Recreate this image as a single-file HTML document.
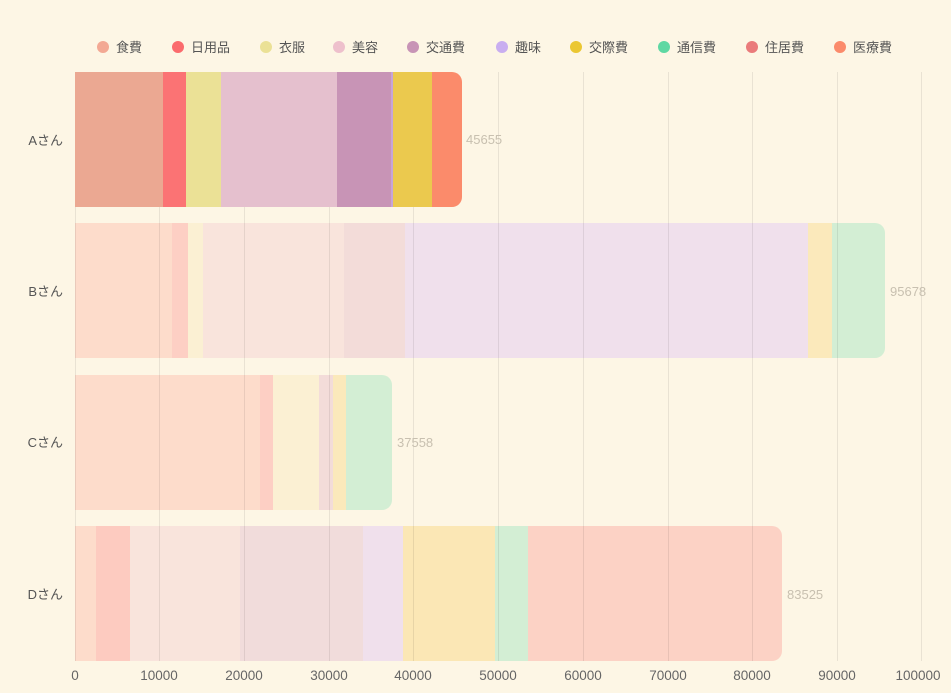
<!DOCTYPE html>
<html><head><meta charset="utf-8"><style>
html,body{margin:0;padding:0;background:#fdf6e5;}
svg{display:block;font-family:"Liberation Sans","Noto Sans CJK JP",sans-serif;}
</style></head><body>
<svg width="951" height="693" viewBox="0 0 951 693">
<rect width="951" height="693" fill="#fdf6e5"/>
<defs>
<clipPath id="cA"><rect x="60" y="72" width="402" height="135" rx="10"/></clipPath>
<clipPath id="cB"><rect x="60" y="223" width="825" height="135" rx="10"/></clipPath>
<clipPath id="cC"><rect x="60" y="375" width="332" height="135" rx="10"/></clipPath>
<clipPath id="cD"><rect x="60" y="526" width="722" height="135" rx="10"/></clipPath>
</defs>
<g clip-path="url(#cB)">
<rect x="75" y="223" width="97" height="135" fill="#fddccb"/>
<rect x="172" y="223" width="16" height="135" fill="#fdcfc4"/>
<rect x="188" y="223" width="15" height="135" fill="#fbf0d3"/>
<rect x="203" y="223" width="141" height="135" fill="#f9e4dc"/>
<rect x="344" y="223" width="61" height="135" fill="#f3dcd9"/>
<rect x="405" y="223" width="403" height="135" fill="#f0e0ec"/>
<rect x="808" y="223" width="24" height="135" fill="#fbe9bb"/>
<rect x="832" y="223" width="60" height="135" fill="#d3eed4"/>
</g>
<g clip-path="url(#cC)">
<rect x="75" y="375" width="185" height="135" fill="#fddccb"/>
<rect x="260" y="375" width="13" height="135" fill="#fdcfc4"/>
<rect x="273" y="375" width="46" height="135" fill="#fbf0d3"/>
<rect x="319" y="375" width="14" height="135" fill="#f3dcd9"/>
<rect x="333" y="375" width="13" height="135" fill="#fbe9bb"/>
<rect x="346" y="375" width="50" height="135" fill="#d3eed4"/>
</g>
<g clip-path="url(#cD)">
<rect x="75" y="526" width="21" height="135" fill="#fddccb"/>
<rect x="96" y="526" width="34" height="135" fill="#fdcbc0"/>
<rect x="130" y="526" width="110" height="135" fill="#f9e4dc"/>
<rect x="240" y="526" width="123" height="135" fill="#f1dcdb"/>
<rect x="363" y="526" width="40" height="135" fill="#f0e0ec"/>
<rect x="403" y="526" width="92" height="135" fill="#fbe7b5"/>
<rect x="495" y="526" width="33" height="135" fill="#d3eed4"/>
<rect x="528" y="526" width="260" height="135" fill="#fcd2c5"/>
</g>
<g stroke="#000" stroke-opacity="0.08" stroke-width="1">
<line x1="75.5" y1="72" x2="75.5" y2="661"/>
<line x1="159.5" y1="72" x2="159.5" y2="661"/>
<line x1="244.5" y1="72" x2="244.5" y2="661"/>
<line x1="329.5" y1="72" x2="329.5" y2="661"/>
<line x1="413.5" y1="72" x2="413.5" y2="661"/>
<line x1="498.5" y1="72" x2="498.5" y2="661"/>
<line x1="583.5" y1="72" x2="583.5" y2="661"/>
<line x1="668.5" y1="72" x2="668.5" y2="661"/>
<line x1="752.5" y1="72" x2="752.5" y2="661"/>
<line x1="837.5" y1="72" x2="837.5" y2="661"/>
<line x1="921.5" y1="72" x2="921.5" y2="661"/>
</g>
<g clip-path="url(#cA)">
<rect x="75" y="72" width="88" height="135" fill="#eba892"/>
<rect x="163" y="72" width="23" height="135" fill="#fb7374"/>
<rect x="186" y="72" width="35" height="135" fill="#ebe196"/>
<rect x="221" y="72" width="116" height="135" fill="#e5c0ce"/>
<rect x="337" y="72" width="54" height="135" fill="#c894b6"/>
<rect x="391" y="72" width="2" height="135" fill="#c6a4d8"/>
<rect x="393" y="72" width="39" height="135" fill="#ebc94e"/>
<rect x="432" y="72" width="35" height="135" fill="#fb8b6b"/>
</g>
<g font-size="13" fill="#c8c0b0">
<text x="466" y="144">45655</text>
<text x="890" y="296">95678</text>
<text x="397" y="447">37558</text>
<text x="787" y="599">83525</text>
</g>
<g font-size="13" fill="#555" text-anchor="end">
<text x="63" y="145">Aさん</text>
<text x="63" y="296">Bさん</text>
<text x="63" y="447">Cさん</text>
<text x="63" y="599">Dさん</text>
</g>
<g font-size="13.5" fill="#666" text-anchor="middle">
<text x="75" y="680">0</text>
<text x="159" y="680">10000</text>
<text x="244" y="680">20000</text>
<text x="329" y="680">30000</text>
<text x="413" y="680">40000</text>
<text x="498" y="680">50000</text>
<text x="583" y="680">60000</text>
<text x="668" y="680">70000</text>
<text x="752" y="680">80000</text>
<text x="837" y="680">90000</text>
<text x="918" y="680">100000</text>
</g>
<g font-size="13" fill="#555">
<circle cx="103" cy="47" r="6" fill="#f3a994"/><text x="116" y="52">食費</text>
<circle cx="178" cy="47" r="6" fill="#fb6b6d"/><text x="191" y="52">日用品</text>
<circle cx="266" cy="47" r="6" fill="#ebe196"/><text x="279" y="52">衣服</text>
<circle cx="339" cy="47" r="6" fill="#eec0cc"/><text x="352" y="52">美容</text>
<circle cx="413" cy="47" r="6" fill="#c894b6"/><text x="426" y="52">交通費</text>
<circle cx="502" cy="47" r="6" fill="#c9aef0"/><text x="515" y="52">趣味</text>
<circle cx="576" cy="47" r="6" fill="#ebc732"/><text x="589" y="52">交際費</text>
<circle cx="664" cy="47" r="6" fill="#5fd8a3"/><text x="677" y="52">通信費</text>
<circle cx="752" cy="47" r="6" fill="#ea7b7b"/><text x="765" y="52">住居費</text>
<circle cx="840" cy="47" r="6" fill="#fb8b6b"/><text x="853" y="52">医療費</text>
</g>
</svg>
</body></html>
